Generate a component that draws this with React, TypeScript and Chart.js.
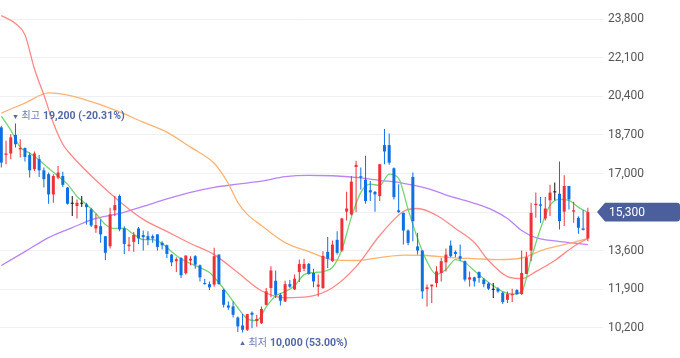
import React, { useEffect, useRef } from "react";
import { Chart, registerables } from "chart.js";
Chart.register(...registerables);

// ---- Candle data (daily OHLC) ----
const opens = [19030,17820,17880,18700,18060,18120,17820,17190,17630,17140,16970,16080,16820,16890,16380,15670,15570,15670,15640,15420,14580,14680,14240,13800,15380,16010,14580,13800,13990,14580,14290,14240,14240,14320,13950,13840,13430,13140,13280,12610,13170,13360,12960,12180,12130,12110,13430,11880,11190,11150,10660,10310,10120,10870,10510,10410,11220,11960,12280,11660,11370,12130,11900,12660,12810,13020,12620,12020,11960,13550,13140,14080,13610,15320,15200,17290,16880,16730,16260,16190,16010,18250,18250,17230,15380,15270,14490,16850,13790,13610,11910,12030,12180,12620,13090,13830,13550,13360,13140,12330,12430,12660,12330,12160,11880,11930,11750,11440,11640,11870,11690,12580,13610,15610,15640,15020,15820,16170,16110,15320,16450,15320,15050,14580,14140];
const highs = [19100,18440,18730,19200,18510,18150,17920,17970,17820,17260,17040,16970,17330,17080,16410,16010,15860,16010,15710,15490,15230,14980,14240,15490,16010,16080,14680,14200,14430,14640,14490,14460,14320,14320,14020,13870,13460,13310,13310,13390,13360,13400,12990,12370,12250,13730,13430,11930,11370,11370,10710,10810,10810,10930,10780,11150,11960,12920,12730,11740,12280,12310,12550,13210,13250,13060,12810,12550,13580,14200,14050,14460,15050,16200,16890,17560,17260,17780,16670,16230,17410,18960,18760,17260,16530,15270,14540,17040,14390,13610,12110,12110,12920,13280,13700,14050,13610,13870,13170,12690,12460,12690,12400,12210,12180,11990,11810,11810,11930,11900,13610,13550,15710,16160,15970,15970,16500,16600,17530,16920,16450,15760,15120,15390,15490];
const lows = [17260,17410,17630,18150,17700,17530,16820,17110,16850,16380,15670,15710,16750,16410,15640,15130,15020,15520,14760,14640,14390,13950,13180,13700,15130,14460,13460,13580,13550,13900,13610,13840,13950,13610,13650,13280,12920,12660,12400,12550,12960,12810,12250,12110,11870,12020,12110,11100,11000,10660,10020,10000,10070,10190,10250,10370,11190,11550,11520,11190,11340,11960,11870,12220,12700,12550,11990,11590,11930,12840,13110,13430,13550,14930,15150,15290,16300,15670,15790,15320,15790,17410,17380,15860,15270,13870,13840,14020,13430,11490,11150,11300,11990,12250,12690,13310,13310,13140,12250,12030,12030,12190,11990,11870,11520,11750,11250,11300,11340,11660,11660,12580,13140,15050,14830,14930,15130,15820,14540,14690,15420,14830,14350,14490,14020];
const closes = [17480,17880,18590,18290,18120,17730,17140,17880,17140,16750,16080,16890,17040,16500,15670,15670,15710,15670,15520,14710,14730,14320,13510,15200,15610,14540,13900,13870,14290,14140,14200,14090,14140,13770,13840,13460,13090,13230,12520,13390,13250,12990,12430,12130,11990,13360,12130,11220,11100,10780,10270,10120,10810,10780,10600,11040,11810,12730,11660,11400,12130,12020,12370,13020,13020,12580,12250,12110,13370,13250,13870,13510,15020,15460,16640,17380,16820,15790,16170,16080,17410,17970,17480,15960,15300,14490,13950,14900,13610,11810,11990,12110,12690,13140,13430,13360,13460,13250,12330,12430,12250,12400,12130,11930,11880,11810,11340,11690,11690,11690,12620,13310,15270,15670,15580,15460,16160,16170,14900,16450,15860,15380,14610,14520,15300];

// ---- Moving averages (read at sampled candle positions) ----
const ma5Idx = [0,2,4,6,8,10,12,14,16,18,20,22,24,26,28,30,32,34,36,38,40,42,44,46,48,50,52,54,56,58,60,62,64,66,68,70,72,74,76,78,80,82,84,86,88,90,92,94,96,98,100,102,104,106,108,110,112,114,116,118,120,122,124];
const ma5 = [19530,18910,18160,17900,17590,17230,16880,16530,15990,15640,15240,14760,14580,14580,14320,14090,14090,13920,13560,13250,13030,12860,12640,12190,11660,11090,10600,10520,11130,11620,11800,12060,12550,12640,12680,12860,13650,15070,16170,16530,16480,16970,16790,15420,14140,13120,12550,12770,13210,13080,12720,12370,12060,11800,11690,11800,13250,14580,15600,15860,15820,15510,15290];
const ma20Idx = [0,3,5,7,9,11,13,15,20,25,30,35,40,45,50,55,60,65,70,75,80,85,88,92,96,100,103,107,110,113,117,121,124];
const ma20 = [23950,23600,23110,21610,20460,19220,18290,17760,16700,15770,14980,14450,13920,13430,12640,11840,11530,11580,11970,12900,14270,15330,15460,15160,14580,13960,13170,12460,12370,12680,13170,13790,14140];
const ma60Idx = [0,5,10,15,20,25,30,35,40,45,47,48,50,52,55,60,65,70,75,80,85,90,95,100,105,110,115,120,124];
const ma60 = [19660,20100,20550,20410,20100,19710,19260,18820,18160,17450,16900,16560,15730,15200,14710,13960,13560,13210,13170,13300,13410,13390,13300,13250,13210,13280,13670,13920,14140];
const ma120Idx = [0,5,10,15,20,25,30,35,40,45,50,55,60,65,70,75,80,85,90,95,100,104,107,110,113,117,121,124];
const ma120 = [12950,13560,14180,14620,15020,15240,15550,15880,16170,16390,16530,16660,16860,16920,16900,16830,16700,16570,16350,15990,15690,15380,15020,14490,14180,14030,13940,13870];

const yTicks = [10200, 11900, 13600, 15300, 17000, 18700, 20400, 22100, 23800];
const highWord = "최고";
const lowWord = "최저";

const RED = "#ee3138";
const BLUE = "#0f6fe4";
const BLACK = "#111111";
const FONT = "Roboto, 'Noto Sans', 'Noto Sans CJK KR', sans-serif";

export default function App() {
  const ref = useRef<HTMLCanvasElement>(null);

  useEffect(() => {
    if (!ref.current) return;
    const n = closes.length;
    const idx = closes.map((_, i) => i);
    const colorOf = (i: number) =>
      closes[i] > opens[i] ? RED : closes[i] < opens[i] ? BLUE : BLACK;

    const lineDs = (ix: number[], vals: number[], color: string, label: string, order: number) => ({
      type: "line" as const,
      label,
      data: ix.map((x, k) => ({ x, y: vals[k] })),
      borderColor: color,
      borderWidth: 1.3,
      pointRadius: 0,
      cubicInterpolationMode: "monotone" as const,
      order,
    });

    const overlay = {
      id: "overlay",
      afterDatasetsDraw(chart: any) {
        const { ctx } = chart;
        const xs = chart.scales.x;
        const ys = chart.scales.y;
        const last = closes[n - 1];
        const hiVal = Math.max(...highs);
        const loVal = Math.min(...lows);
        const hi = highs.indexOf(hiVal);
        const lo = lows.indexOf(loVal);
        const draw = (i: number, value: number, below: boolean, word: string) => {
          const px = xs.getPixelForValue(i);
          const py = ys.getPixelForValue(value) + (below ? 11 : -7);
          ctx.save();
          ctx.fillStyle = "#5468a4";
          ctx.beginPath();
          if (below) {
            ctx.moveTo(px, py - 2.5);
            ctx.lineTo(px + 2.2, py + 1.5);
            ctx.lineTo(px - 2.2, py + 1.5);
          } else {
            ctx.moveTo(px - 2.2, py - 1.5);
            ctx.lineTo(px + 2.2, py - 1.5);
            ctx.lineTo(px, py + 2.5);
          }
          ctx.closePath();
          ctx.fill();
          ctx.textBaseline = "middle";
          ctx.textAlign = "left";
          let tx = px + 6;
          ctx.font = `10px ${FONT}`;
          ctx.fillStyle = "#6c7cb2";
          ctx.fillText(word, tx, py);
          tx += ctx.measureText(word).width + 3;
          ctx.font = `bold 10.5px ${FONT}`;
          ctx.fillStyle = "#5468a4";
          const pct = (((last - value) / value) * 100).toFixed(2);
          ctx.fillText(`${value.toLocaleString("en-US")} (${pct}%)`, tx, py);
          ctx.restore();
        };
        draw(hi, hiVal, false, highWord);
        draw(lo, loVal, true, lowWord);
      },
      afterDraw(chart: any) {
        const { ctx, chartArea } = chart;
        const ys = chart.scales.y;
        const last = closes[n - 1];
        const py = ys.getPixelForValue(last);
        const left = chartArea.right + 2;
        const right = chart.width;
        const h = 9.3;
        ctx.save();
        ctx.fillStyle = "#4a5f9c";
        ctx.beginPath();
        ctx.moveTo(chartArea.right - 6, py);
        ctx.lineTo(left, py - h);
        ctx.lineTo(right - 3, py - h);
        ctx.quadraticCurveTo(right, py - h, right, py - h + 3);
        ctx.lineTo(right, py + h - 3);
        ctx.quadraticCurveTo(right, py + h, right - 3, py + h);
        ctx.lineTo(left, py + h);
        ctx.closePath();
        ctx.fill();
        ctx.fillStyle = "#ffffff";
        ctx.font = `12px ${FONT}`;
        ctx.textBaseline = "middle";
        ctx.textAlign = "left";
        ctx.fillText(last.toLocaleString("en-US"), chartArea.right + 6, py + 0.5);
        ctx.restore();
      },
    };

    const chart = new Chart(ref.current, {
      type: "bar",
      data: {
        datasets: [
          {
            label: "body",
            data: idx.map((i) => ({ x: i, y: [Math.min(opens[i], closes[i]), Math.max(opens[i], closes[i])] })) as any,
            backgroundColor: idx.map(colorOf),
            barThickness: 3,
            minBarLength: 1,
            grouped: false,
            inflateAmount: 0,
            borderWidth: 0,
            order: 0,
          } as any,
          {
            label: "wick",
            data: idx.map((i) => ({ x: i, y: [lows[i], highs[i]] })) as any,
            backgroundColor: idx.map(colorOf),
            barThickness: 1,
            grouped: false,
            inflateAmount: 0,
            borderWidth: 0,
            order: 1,
          } as any,
          lineDs(ma5Idx, ma5, "rgba(110, 210, 110, 0.95)", "MA5", 2) as any,
          lineDs(ma20Idx, ma20, "rgba(255, 130, 130, 0.95)", "MA20", 3) as any,
          lineDs(ma60Idx, ma60, "rgba(255, 175, 105, 0.95)", "MA60", 4) as any,
          lineDs(ma120Idx, ma120, "rgba(180, 125, 245, 0.95)", "MA120", 5) as any,
        ],
      },
      options: {
        animation: false,
        responsive: false,
        maintainAspectRatio: false,
        layout: { padding: 0 },
        plugins: { legend: { display: false }, tooltip: { enabled: false } },
        scales: {
          x: {
            type: "linear",
            min: -0.275,
            max: 127.2,
            offset: false,
            display: false,
          },
          y: {
            position: "right",
            min: 8878,
            max: 24638,
            afterBuildTicks: (s: any) => {
              s.ticks = yTicks.map((v) => ({ value: v }));
            },
            afterFit: (s: any) => {
              s.width = 77;
              s.paddingTop = 0;
              s.paddingBottom = 0;
            },
            grid: { color: "#eef0f4", drawTicks: false, lineWidth: 1 },
            border: { display: false },
            ticks: {
              padding: 5,
              color: "#555555",
              font: { family: FONT, size: 12 },
              callback: (v: any) => Number(v).toLocaleString("en-US"),
            },
          },
        },
      } as any,
      plugins: [overlay],
    });
    return () => chart.destroy();
  }, []);

  return (
    <div style={{ position: "fixed", left: 0, top: 0, width: 680, height: 358, background: "#fff" }}>
      <canvas ref={ref} width={680} height={358} style={{ display: "block" }} />
    </div>
  );
}
